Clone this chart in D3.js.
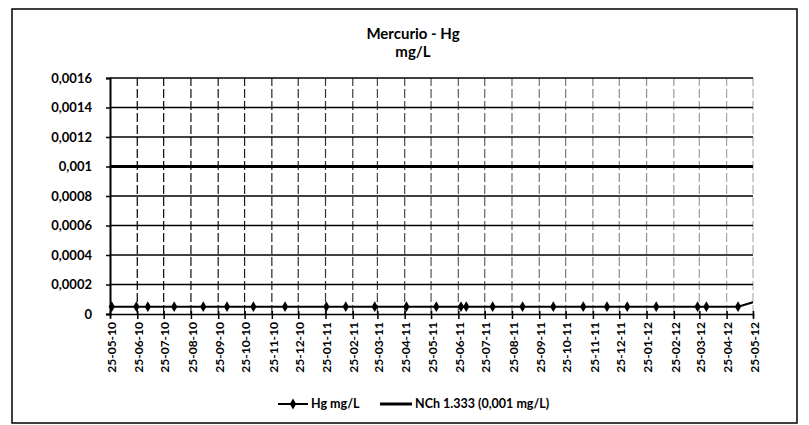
<!DOCTYPE html>
<html>
<head>
<meta charset="utf-8">
<script src="https://cdn.jsdelivr.net/npm/d3@7"></script>
<style>
body { margin: 0; background: #fff; }
text { font-family: Lato, "Open Sans", sans-serif; fill: #000; }
</style>
</head>
<body>
<div id="plot"></div>
<script>
// month tick labels of the date axis
var tickLabels = ["25-05-10","25-06-10","25-07-10","25-08-10","25-09-10","25-10-10","25-11-10","25-12-10",
	"25-01-11","25-02-11","25-03-11","25-04-11","25-05-11","25-06-11","25-07-11","25-08-11","25-09-11",
	"25-10-11","25-11-11","25-12-11","25-01-12","25-02-12","25-03-12","25-04-12","25-05-12"];

// sampling dates and mercury values (mg/L)
var sampleDates = ["2010-05-27","2010-06-24","2010-07-07","2010-08-06","2010-09-08","2010-10-05","2010-11-04",
	"2010-12-10","2011-01-26","2011-02-17","2011-03-22","2011-04-27","2011-05-31","2011-06-28","2011-07-04",
	"2011-08-03","2011-09-06","2011-10-11","2011-11-14","2011-12-11","2012-01-03","2012-02-05","2012-03-23",
	"2012-04-02","2012-05-08","2012-05-25"];
var hgValues = [0.00005,0.00005,0.00005,0.00005,0.00005,0.00005,0.00005,0.00005,0.00005,0.00005,0.00005,
	0.00005,0.00005,0.00005,0.00005,0.00005,0.00005,0.00005,0.00005,0.00005,0.00005,0.00005,0.00005,
	0.00005,0.00005,0.00008];

// NCh 1.333 limit
var nchLimit = 0.001;

var yTicks = [0,0.0002,0.0004,0.0006,0.0008,0.001,0.0012,0.0014,0.0016];

var width = 809, height = 425;
var margin = {top: 78, right: 56, bottom: 111, left: 110};

var parseTick = d3.timeParse("%d-%m-%y");
var parseDate = d3.timeParse("%Y-%m-%d");
var tickDates = tickLabels.map(parseTick);
var data = sampleDates.map(function(d, i) { return {date: parseDate(d), value: hgValues[i]}; });

var locale = d3.formatLocale({decimal: ",", thousands: ".", grouping: [3], currency: ["$", ""]});
var yFormat = locale.format(".4~f");

var svg = d3.select("#plot").append("svg")
	.attr("width", width)
	.attr("height", height);

// outer chart frame
svg.append("rect")
	.attr("x", 12).attr("y", 9)
	.attr("width", 785).attr("height", 414)
	.attr("fill", "none")
	.attr("stroke", "#000")
	.attr("stroke-width", 1.5);

var x = d3.scaleTime()
	.domain([tickDates[0], tickDates[tickDates.length - 1]])
	.range([margin.left, width - margin.right]);

var y = d3.scaleLinear()
	.domain([0, 0.0016])
	.range([height - margin.bottom, margin.top]);

// vertical gridlines (faded like the scan)
svg.append("g")
	.selectAll("line")
	.data(tickDates.slice(1))
	.enter().append("line")
	.attr("x1", function(d) { return x(d); })
	.attr("x2", function(d) { return x(d); })
	.attr("y1", y(0))
	.attr("y2", y(0.0016))
	.attr("stroke", "#000")
	.attr("stroke-width", 1.2)
	.attr("stroke-dasharray", "9,3")
	.attr("opacity", function(d, i) { return 1 - i * 0.03; });

// horizontal gridlines
svg.append("g")
	.selectAll("line")
	.data(yTicks.slice(1))
	.enter().append("line")
	.attr("x1", x.range()[0])
	.attr("x2", x.range()[1])
	.attr("y1", function(d) { return y(d); })
	.attr("y2", function(d) { return y(d); })
	.attr("stroke", "#000")
	.attr("stroke-width", 1.5);

// y axis
var yAxis = svg.append("g")
	.attr("transform", "translate(" + margin.left + ",0)")
	.call(d3.axisLeft(y).tickValues(yTicks).tickSize(4).tickPadding(14).tickFormat(yFormat));
yAxis.select(".domain").attr("stroke", "#000").attr("stroke-width", 2);
yAxis.selectAll(".tick line").attr("stroke-width", 1.5);
yAxis.selectAll("text")
	.style("font-size", "13px")
	.style("font-weight", "bold");

// x axis
var xAxis = svg.append("g")
	.attr("transform", "translate(0," + y(0) + ")")
	.call(d3.axisBottom(x).tickValues(tickDates).tickSize(4).tickFormat(d3.timeFormat("%d-%m-%y")));
xAxis.select(".domain").attr("stroke", "#000").attr("stroke-width", 1.5);
xAxis.selectAll(".tick line").attr("y1", -3).attr("y2", 5).attr("stroke-width", 1.5);
xAxis.selectAll("text")
	.attr("transform", "rotate(-90)")
	.attr("text-anchor", "end")
	.attr("x", -8)
	.attr("y", 1)
	.attr("dy", "0.35em")
	.style("font-size", "12px")
	.style("font-weight", "bold");

// NCh 1.333 limit line
svg.append("line")
	.attr("x1", x.range()[0])
	.attr("x2", x.range()[1])
	.attr("y1", y(nchLimit))
	.attr("y2", y(nchLimit))
	.attr("stroke", "#000")
	.attr("stroke-width", 3);

// Hg series
var line = d3.line()
	.x(function(d) { return x(d.date); })
	.y(function(d) { return y(d.value); });

svg.append("path")
	.datum(data)
	.attr("d", line)
	.attr("fill", "none")
	.attr("stroke", "#000")
	.attr("stroke-width", 2);

var diamond = d3.symbol().type(d3.symbolDiamond).size(34);

svg.append("g")
	.selectAll("path")
	.data(data.slice(0, data.length - 1))
	.enter().append("path")
	.attr("d", diamond)
	.attr("transform", function(d) { return "translate(" + x(d.date) + "," + y(d.value) + ")"; })
	.attr("fill", "#000");

// title
svg.append("text")
	.attr("x", 413).attr("y", 39)
	.attr("text-anchor", "middle")
	.style("font-size", "15px")
	.style("font-weight", "bold")
	.text("Mercurio - Hg");
svg.append("text")
	.attr("x", 413).attr("y", 57)
	.attr("text-anchor", "middle")
	.style("font-size", "15px")
	.style("font-weight", "bold")
	.text("mg/L");

// legend
var legend = svg.append("g");
legend.append("line")
	.attr("x1", 278).attr("x2", 308)
	.attr("y1", 404).attr("y2", 404)
	.attr("stroke", "#000").attr("stroke-width", 2);
legend.append("path")
	.attr("d", diamond)
	.attr("transform", "translate(293,404)")
	.attr("fill", "#000");
legend.append("text")
	.attr("x", 311).attr("y", 408)
	.style("font-size", "12.5px")
	.style("font-weight", "bold")
	.text("Hg mg/L");
legend.append("line")
	.attr("x1", 380).attr("x2", 412)
	.attr("y1", 404).attr("y2", 404)
	.attr("stroke", "#000").attr("stroke-width", 3);
legend.append("text")
	.attr("x", 415).attr("y", 408)
	.style("font-size", "12.5px")
	.style("font-weight", "bold")
	.text("NCh 1.333 (0,001 mg/L)");
</script>
</body>
</html>
